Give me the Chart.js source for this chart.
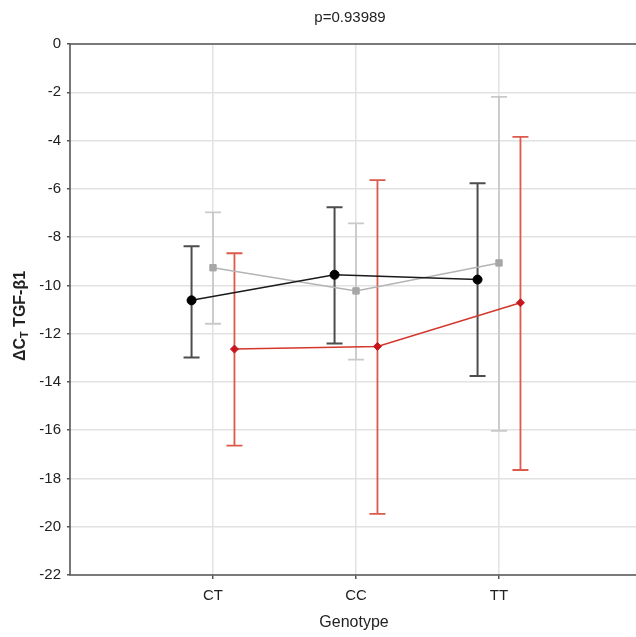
<!DOCTYPE html>
<html><head><meta charset="utf-8">
<script src="https://cdn.jsdelivr.net/npm/chart.js@4/dist/chart.umd.min.js"></script>
<style>html,body{margin:0;padding:0;background:#fff}#wrap{width:636px;height:637px}</style>
</head><body><div id="wrap"><canvas id="c" width="636" height="637"></canvas></div>
<script>
const categories = ["CT", "CC", "TT"];
const yTicks = [0, -2, -4, -6, -8, -10, -12, -14, -16, -18, -20, -22];
const titleText = "p=0.93989";
const xTitle = "Genotype";

const blackMean = [-10.62, -9.56, -9.76];
const blackLow  = [-12.99, -12.41, -13.75];
const blackHigh = [-8.38, -6.76, -5.77];

const grayMean = [-9.27, -10.23, -9.07];
const grayLow  = [-11.59, -13.08, -16.03];
const grayHigh = [-6.98, -7.43, -2.19];

const redMean = [-12.64, -12.53, -10.72];
const redLow  = [-16.64, -19.47, -17.65];
const redHigh = [-8.67, -5.64, -3.85];

const offsets = [-0.15, 0, 0.15];

function pts(mean, off) { return mean.map((v, i) => ({x: i + 1 + off, y: v})); }

const series = [
  {mean: blackMean, low: blackLow, high: blackHigh, off: offsets[0], line: '#1a1a1a', pt: '#000000', bar: '#4d4d4d', barW: 2, style: 'circle', r: 4.5},
  {mean: grayMean, low: grayLow, high: grayHigh, off: offsets[1], line: '#b4b4b4', pt: '#a6a6a6', bar: '#c9c9c9', barW: 1.8, style: 'rect', r: 4.5},
  {mean: redMean, low: redLow, high: redHigh, off: offsets[2], line: '#d4372b', pt: '#c8161e', bar: '#dc5a4a', barW: 1.8, style: 'rectRot', r: 4}
];

const errorBars = {
  id: 'errorBars',
  beforeDatasetsDraw(chart) {
    const {ctx, scales: {x, y}, chartArea: a} = chart;
    ctx.save();
    ctx.beginPath(); ctx.rect(a.left, a.top, a.right - a.left, a.bottom - a.top); ctx.clip();
    series.forEach(s => {
      ctx.strokeStyle = s.bar; ctx.lineWidth = s.barW;
      s.mean.forEach((m, i) => {
        const px = x.getPixelForValue(i + 1 + s.off);
        const pl = y.getPixelForValue(s.low[i]);
        const ph = y.getPixelForValue(s.high[i]);
        ctx.beginPath();
        ctx.moveTo(px, pl); ctx.lineTo(px, ph);
        ctx.moveTo(px - 8, pl); ctx.lineTo(px + 8, pl);
        ctx.moveTo(px - 8, ph); ctx.lineTo(px + 8, ph);
        ctx.stroke();
      });
    });
    ctx.restore();
  }
};

const texts = {
  id: 'texts',
  afterDraw(chart) {
    const {ctx, chartArea: a} = chart;
    ctx.save();
    ctx.fillStyle = '#222';
    ctx.font = '15px "Liberation Sans", Arial, sans-serif';
    ctx.textAlign = 'center'; ctx.textBaseline = 'middle';
    ctx.fillText(titleText, 350, 18);
    ctx.font = '16px "Liberation Sans", Arial, sans-serif';
    ctx.fillText(xTitle, 354, 623);
    // y title with subscript
    ctx.translate(19, 316);
    ctx.rotate(-Math.PI / 2);
    ctx.textBaseline = 'alphabetic';
    ctx.textAlign = 'left';
    const big = 'bold 16px "Liberation Sans", Arial, sans-serif';
    const small = 'bold 11px "Liberation Sans", Arial, sans-serif';
    const p1 = 'ΔC', p2 = 'T', p3 = ' TGF-β1';
    ctx.font = big; const w1 = ctx.measureText(p1).width, w3 = ctx.measureText(p3).width;
    ctx.font = small; const w2 = ctx.measureText(p2).width;
    let sx = -(w1 + w2 + w3) / 2;
    ctx.font = big; ctx.fillText(p1, sx, 6); sx += w1;
    ctx.font = small; ctx.fillText(p2, sx, 9); sx += w2;
    ctx.font = big; ctx.fillText(p3, sx, 6);
    ctx.restore();
    // axes borders
    ctx.save();
    ctx.strokeStyle = '#555'; ctx.lineWidth = 1.6;
    ctx.beginPath();
    ctx.moveTo(a.right, a.top); ctx.lineTo(a.left, a.top); ctx.lineTo(a.left, a.bottom); ctx.lineTo(a.right, a.bottom);
    ctx.stroke();
    ctx.restore();
  }
};

new Chart(document.getElementById('c'), {
  type: 'scatter',
  data: {
    datasets: series.map(s => ({
      data: pts(s.mean, s.off),
      showLine: true,
      borderColor: s.line,
      borderWidth: 1.5,
      pointStyle: s.style,
      pointRadius: s.r,
      pointBackgroundColor: s.pt,
      pointBorderColor: s.pt,
      pointBorderWidth: 1,
      tension: 0
    }))
  },
  options: {
    responsive: false,
    animation: false,
    layout: {autoPadding: false, padding: {top: 44, right: 0, left: 0, bottom: 0}},
    plugins: {legend: {display: false}, tooltip: {enabled: false}, title: {display: false}},
    scales: {
      x: {
        type: 'linear', min: 0, max: 3.958,
        afterFit(s) { s.height = 62; },
        afterBuildTicks(s) { s.ticks = [1, 2, 3].map(v => ({value: v})); },
        ticks: {
          callback: (v) => categories[v - 1] || '',
          color: '#222', font: {size: 15, family: '"Liberation Sans", Arial, sans-serif'},
          padding: 8, maxRotation: 0, autoSkip: false
        },
        grid: {color: '#e2e2e2', lineWidth: 1.5, drawTicks: true, tickLength: 4, tickColor: '#555'},
        border: {display: false}
      },
      y: {
        min: -22, max: 0,
        afterFit(s) { s.width = 70; },
        afterBuildTicks(s) { s.ticks = yTicks.map(v => ({value: v})); },
        ticks: {
          color: '#222', font: {size: 15, family: '"Liberation Sans", Arial, sans-serif'},
          padding: 6
        },
        grid: {color: '#e2e2e2', lineWidth: 1.5, drawTicks: true, tickLength: 3, tickColor: '#555'},
        border: {display: false}
      }
    }
  },
  plugins: [errorBars, texts]
});
</script>
</body></html>
